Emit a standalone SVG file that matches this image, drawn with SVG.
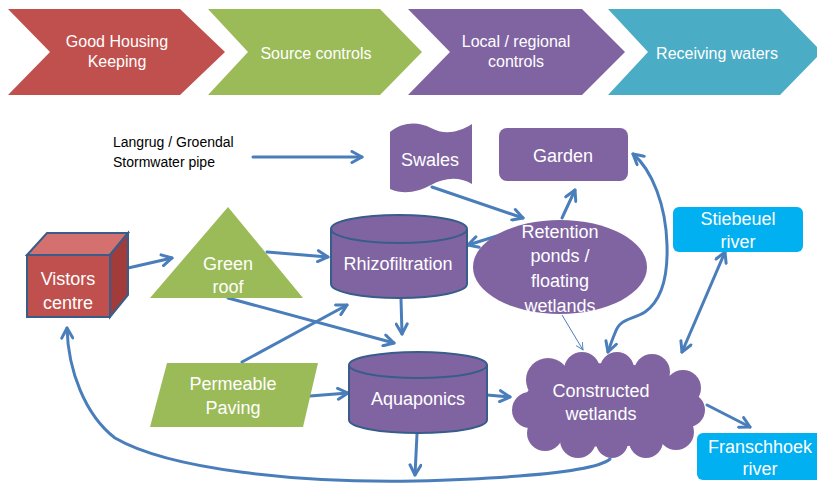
<svg xmlns="http://www.w3.org/2000/svg" width="817" height="483" viewBox="0 0 817 483">
<style>
.t{font-family:"Liberation Sans",Arial,sans-serif;fill:#fff;text-anchor:middle}
.b{font-size:16px}
.n{font-size:18px}
.c{fill:none;stroke:#4a7ebb;stroke-width:3;stroke-linecap:round}
.purple{fill:#8064a2}
.cyl{fill:#8064a2;stroke:#385d8a;stroke-width:2}
</style>
<defs>
<marker id="ah" viewBox="0 0 14 14" refX="12" refY="7" markerWidth="14" markerHeight="14" markerUnits="userSpaceOnUse" orient="auto-start-reverse">
<path d="M2,1.5 L12,7 L2,12.5" fill="none" stroke="#4a7ebb" stroke-width="3" stroke-linecap="round" stroke-linejoin="round"/>
</marker>
<marker id="ahs" viewBox="0 0 10 10" refX="9" refY="5" markerWidth="9" markerHeight="9" markerUnits="userSpaceOnUse" orient="auto">
<path d="M1,1 L9,5 L1,9" fill="none" stroke="#4a7ebb" stroke-width="1"/>
</marker>
</defs>
<rect width="817" height="483" fill="#fff"/>

<g id="banner-good-housing">
<polygon points="8,9 180,9 225,52 180,95 8,95 50,52" fill="#c0504d"/>
<text class="t b" x="117" y="47">Good Housing</text>
<text class="t b" x="117" y="67">Keeping</text>
</g>
<g id="banner-source">
<polygon points="208,9 380,9 422,52 380,95 208,95 248,52" fill="#9bbb59"/>
<text class="t b" x="316" y="59">Source controls</text>
</g>
<g id="banner-local">
<polygon points="408,9 582,9 625,52 582,95 408,95 450,52" fill="#8064a2"/>
<text class="t b" x="516" y="47">Local / regional</text>
<text class="t b" x="516" y="67">controls</text>
</g>
<g id="banner-receiving">
<polygon points="608,9 780,9 822,52 780,95 608,95 648,52" fill="#4bacc6"/>
<text class="t b" x="717" y="59">Receiving waters</text>
</g>

<g id="pipe-label">
<text x="113" y="147" font-family="Liberation Sans,Arial,sans-serif" font-size="14" fill="#000">Langrug / Groendal</text>
<text x="113" y="167" font-family="Liberation Sans,Arial,sans-serif" font-size="14" fill="#000">Stormwater pipe</text>
</g>

<g id="connectors">
<path class="c" d="M253,157 L362,157" marker-end="url(#ah)"/>
<path class="c" d="M128,268 L172,258" marker-end="url(#ah)"/>
<path class="c" d="M267,252 L328,257" marker-end="url(#ah)"/>
<path class="c" d="M228,298 L394,343" marker-end="url(#ah)"/>
<path class="c" d="M242,362 L347,305" marker-end="url(#ah)"/>
<path class="c" d="M310,396 L348,393" marker-end="url(#ah)"/>
<path class="c" d="M401,299 L402,334" marker-end="url(#ah)"/>
<path class="c" d="M432,187 L523,218" marker-end="url(#ah)"/>
<path class="c" d="M500,235 L468,245" marker-end="url(#ah)"/>
<path class="c" d="M562,218 L575,190" marker-end="url(#ah)"/>
<path class="c" d="M633,154 C652,170 666,205 667,245 C668,275 662,300 645,312 C632,320 620,318 615,333 C612,340 610,346 608,352" marker-start="url(#ah)" marker-end="url(#ah)"/>
<path class="c" d="M725,252 L682,352" marker-start="url(#ah)" marker-end="url(#ah)"/>
<path d="M562,315 L583,350" fill="none" stroke="#4a7ebb" stroke-width="1" marker-end="url(#ahs)"/>
<path class="c" d="M487,395 L510,397" marker-end="url(#ah)"/>
<path class="c" d="M707,405 L750,427" marker-end="url(#ah)"/>
<path class="c" d="M417,434 L415,475" marker-end="url(#ah)"/>
<path class="c" d="M610,459 C595,472 520,478 415,481 C300,483 170,470 115,438 C85,415 68,370 67,328" marker-end="url(#ah)"/>
</g>

<g id="visitors-centre">
<polygon points="27,255 47,233 128,233 110,255" fill="#d4706d" stroke="#385d8a" stroke-width="2"/>
<polygon points="110,255 128,233 128,295 110,317" fill="#a23c3a" stroke="#385d8a" stroke-width="2"/>
<rect x="27" y="255" width="83" height="62" fill="#c0504d" stroke="#385d8a" stroke-width="2"/>
<text class="t n" x="68" y="285">Vistors</text>
<text class="t n" x="68" y="309">centre</text>
</g>

<g id="green-roof">
<polygon points="228,207 303,298 150,298" fill="#9bbb59"/>
<text class="t n" x="228" y="270">Green</text>
<text class="t n" x="228" y="293">roof</text>
</g>

<g id="permeable-paving">
<polygon points="167,363 318,363 303,427 150,427" fill="#9bbb59"/>
<text class="t n" x="233" y="390">Permeable</text>
<text class="t n" x="233" y="414">Paving</text>
</g>

<g id="swales">
<path class="purple" d="M390,132 C402,122 418,121 431,128 C444,135 458,133 472,124 L472,184 C458,176 444,178 431,185 C418,192 404,195 390,189 Z"/>
<text class="t n" x="430" y="166">Swales</text>
</g>

<g id="garden">
<rect x="499" y="128" width="129" height="53" rx="8" class="purple"/>
<text class="t n" x="563" y="162">Garden</text>
</g>

<g id="rhizofiltration">
<path class="cyl" d="M331,229 L331,284 A68,14 0 0 0 467,284 L467,229"/>
<ellipse class="cyl" cx="399" cy="229" rx="68" ry="14"/>
<text class="t n" x="398" y="270">Rhizofiltration</text>
</g>

<g id="retention-ponds">
<ellipse cx="560" cy="267" rx="87" ry="47" class="purple"/>
<text class="t n" x="560" y="238">Retention</text>
<text class="t n" x="560" y="262">ponds /</text>
<text class="t n" x="560" y="287">floating</text>
<text class="t n" x="560" y="312">wetlands</text>
</g>

<g id="aquaponics">
<path class="cyl" d="M349,365 L349,420 A69,13 0 0 0 487,420 L487,365"/>
<ellipse class="cyl" cx="418" cy="365" rx="69" ry="13"/>
<text class="t n" x="418" y="405">Aquaponics</text>
</g>

<g id="constructed-wetlands" class="purple">
<ellipse cx="608" cy="405" rx="85" ry="42"/>
<circle cx="548" cy="380" r="22"/>
<circle cx="582" cy="370" r="18"/>
<circle cx="617" cy="369" r="17"/>
<circle cx="652" cy="372" r="18"/>
<circle cx="683" cy="388" r="18"/>
<circle cx="688" cy="410" r="17"/>
<circle cx="676" cy="432" r="18"/>
<circle cx="646" cy="441" r="17"/>
<circle cx="612" cy="442" r="16"/>
<circle cx="578" cy="440" r="18"/>
<circle cx="545" cy="433" r="18"/>
<circle cx="530" cy="410" r="18"/>
<text class="t n" x="601" y="397">Constructed</text>
<text class="t n" x="601" y="420">wetlands</text>
</g>

<g id="stiebeuel-river">
<rect x="673" y="207" width="130" height="45" rx="6" fill="#00b0f0"/>
<text class="t n" x="738" y="225">Stiebeuel</text>
<text class="t n" x="738" y="248">river</text>
</g>

<g id="franschhoek-river">
<rect x="697" y="433" width="130" height="47" rx="6" fill="#00b0f0"/>
<text class="t n" x="760" y="453">Franschhoek</text>
<text class="t n" x="760" y="475">river</text>
</g>
</svg>
